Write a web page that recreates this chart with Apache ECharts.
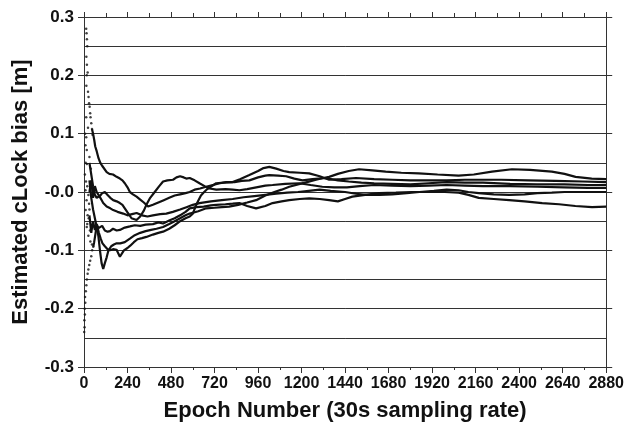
<!DOCTYPE html>
<html><head><meta charset="utf-8">
<script src="https://cdn.jsdelivr.net/npm/echarts@6/dist/echarts.min.js"></script>
<style>html,body{margin:0;padding:0;background:#fff}#c{width:627px;height:432px}</style>
</head><body><div id="c"></div>
<script>
// ---- data: [epoch, clock bias (m)] ----
const earlyDots = [[12,0.28],[14,0.272],[16,0.262],[18,0.25],[13,0.232],[16,0.218],[20,0.205],[15,0.2],[13,0.182],[22,0.172],[25,0.163],[28,0.152],[31,0.146],[34,0.135],[36,0.128],[40,0.118],[44,0.108],[47,0.098],
  [6,0.1],[12,0.094],[8,0.08],[15,0.072],[9,0.05],[16,0.048],[5,0.03],[11,0.018],[18,0.01],[8,0.003],[24,-0.005],[14,-0.014],[28,-0.02],[9,-0.031],[20,-0.04],[15,-0.06],[33,-0.066],[24,-0.075],[12,0.128],[22,0.11],[30,0.06],[38,0.04],[26,-0.045],[35,-0.085],[44,-0.09],[18,-0.055],[30,-0.03],[40,-0.06],
  [1,-0.24],[3,-0.232],[2,-0.22],[5,-0.21],[4,-0.2],[7,-0.19],[6,-0.18],[10,-0.17],[13,-0.16],[16,-0.15],[20,-0.14],[24,-0.133],[29,-0.125],[34,-0.118],[40,-0.11],[45,-0.1],[51,-0.094]];

const seriesP = [[44,0.108],[50,0.1],[56,0.09],[62,0.078],[70,0.07],[80,0.058],[90,0.05],[100,0.045],[110,0.042],[125,0.034],[140,0.031],[160,0.03],[180,0.026],[198,0.023],[212,0.02],[225,0.015],[240,0.008],[253,0.0],[270,-0.004],[290,-0.008],[310,-0.013],[330,-0.018],[353,-0.025],[380,-0.022],[410,-0.018],[440,-0.014],[470,-0.01],[500,-0.006],[530,-0.004],[560,-0.002],[583,0.0],[610,0.004],[640,0.006],[674,0.009],[710,0.012],[750,0.015],[784,0.017],[830,0.017],[870,0.019],[912,0.02],[960,0.025],[1000,0.028],[1022,0.029],[1070,0.028],[1115,0.027],[1160,0.023],[1205,0.02],[1260,0.022],[1330,0.024],[1400,0.02],[1460,0.018],[1530,0.016],[1600,0.015],[1700,0.014],[1800,0.013],[1900,0.015],[2000,0.017],[2100,0.016],[2200,0.016],[2350,0.014],[2500,0.013],[2650,0.013],[2780,0.012],[2880,0.012]];

const seriesQ = [[30,0.05],[40,0.03],[50,0.01],[60,-0.005],[70,-0.01],[80,-0.012],[90,-0.006],[100,-0.002],[115,0.0],[130,-0.005],[145,-0.01],[161,-0.014],[180,-0.016],[198,-0.019],[212,-0.022],[225,-0.028],[240,-0.035],[262,-0.045],[290,-0.048],[310,-0.042],[330,-0.032],[344,-0.022],[365,-0.01],[390,0.0],[415,0.01],[436,0.018],[460,0.02],[491,0.021],[510,0.025],[530,0.027],[550,0.025],[564,0.023],[583,0.024],[610,0.02],[637,0.015],[665,0.01],[692,0.006],[730,0.004],[780,0.005],[820,0.004],[857,0.003],[900,0.005],[950,0.008],[1000,0.011],[1040,0.012],[1110,0.014],[1187,0.015],[1250,0.012],[1314,0.009],[1380,0.008],[1450,0.008],[1520,0.01],[1600,0.012],[1700,0.011],[1800,0.01],[1900,0.011],[2000,0.012],[2100,0.011],[2200,0.01],[2350,0.01],[2500,0.009],[2650,0.008],[2780,0.007],[2880,0.007]];

const seriesR = [[30,0.0],[40,0.02],[50,-0.01],[60,0.01],[70,0.0],[80,0.002],[90,-0.01],[106,-0.019],[125,-0.025],[145,-0.028],[161,-0.031],[185,-0.034],[216,-0.037],[240,-0.04],[265,-0.038],[290,-0.036],[320,-0.04],[350,-0.042],[380,-0.04],[420,-0.038],[454,-0.037],[490,-0.034],[530,-0.03],[565,-0.026],[600,-0.022],[637,-0.019],[700,-0.016],[760,-0.014],[820,-0.012],[880,-0.009],[940,-0.007],[1000,-0.005],[1060,-0.003],[1120,-0.001],[1180,0.0],[1240,0.002],[1300,0.004],[1360,0.002],[1440,0.0],[1500,-0.003],[1560,-0.005],[1630,-0.005],[1700,-0.004],[1780,-0.002],[1850,0.0],[1930,0.002],[2000,0.004],[2066,0.003],[2120,0.0],[2177,-0.002],[2260,-0.004],[2345,-0.005],[2430,-0.004],[2500,-0.002],[2580,-0.001],[2650,0.0],[2760,0.0],[2880,0.0]];

const seriesS = [[30,-0.04],[40,-0.07],[50,-0.05],[60,-0.065],[70,-0.055],[80,-0.062],[88,-0.065],[100,-0.058],[115,-0.066],[130,-0.068],[143,-0.067],[160,-0.063],[180,-0.066],[198,-0.065],[225,-0.061],[253,-0.059],[280,-0.057],[310,-0.058],[340,-0.056],[380,-0.055],[410,-0.052],[436,-0.054],[470,-0.049],[500,-0.045],[530,-0.04],[560,-0.034],[583,-0.028],[620,-0.026],[660,-0.025],[700,-0.023],[729,-0.022],[780,-0.021],[820,-0.02],[857,-0.019],[900,-0.024],[949,-0.028],[1000,-0.024],[1040,-0.019],[1090,-0.016],[1132,-0.014],[1190,-0.012],[1242,-0.011],[1300,-0.012],[1352,-0.014],[1400,-0.016],[1440,-0.012],[1480,-0.008],[1550,-0.005],[1627,-0.002],[1720,-0.001],[1808,0.0],[1900,0.0],[1990,0.0],[2066,-0.001],[2120,-0.005],[2177,-0.01],[2260,-0.012],[2345,-0.014],[2430,-0.016],[2527,-0.019],[2620,-0.021],[2710,-0.024],[2802,-0.026],[2880,-0.025]];

const seriesT = [[30,0.02],[40,-0.01],[50,-0.03],[60,-0.045],[70,-0.06],[79,-0.075],[88,-0.1],[97,-0.122],[106,-0.132],[115,-0.122],[125,-0.112],[135,-0.1],[150,-0.093],[165,-0.09],[180,-0.088],[200,-0.088],[225,-0.086],[253,-0.08],[280,-0.074],[310,-0.07],[340,-0.067],[370,-0.065],[400,-0.063],[436,-0.06],[470,-0.055],[500,-0.05],[530,-0.045],[560,-0.04],[583,-0.037],[630,-0.033],[674,-0.028],[720,-0.027],[760,-0.026],[800,-0.025],[850,-0.022],[900,-0.018],[949,-0.014],[1000,-0.006],[1050,0.0],[1090,0.004],[1132,0.009],[1180,0.013],[1230,0.017],[1280,0.021],[1320,0.024],[1352,0.026],[1400,0.031],[1460,0.036],[1517,0.039],[1590,0.037],[1664,0.035],[1750,0.033],[1846,0.032],[1950,0.03],[2066,0.028],[2150,0.03],[2250,0.035],[2360,0.039],[2460,0.038],[2580,0.035],[2650,0.031],[2711,0.026],[2800,0.023],[2880,0.022]];

const seriesU = [[51,-0.094],[56,-0.086],[61,-0.076],[66,-0.066],[74,-0.06],[82,-0.07],[92,-0.08],[102,-0.088],[115,-0.093],[130,-0.098],[143,-0.1],[160,-0.098],[180,-0.099],[190,-0.106],[198,-0.111],[208,-0.108],[220,-0.1],[240,-0.096],[255,-0.092],[275,-0.086],[295,-0.081],[320,-0.079],[344,-0.077],[380,-0.073],[410,-0.07],[436,-0.068],[470,-0.063],[500,-0.057],[530,-0.05],[560,-0.045],[583,-0.042],[600,-0.037],[615,-0.025],[630,-0.015],[645,-0.006],[660,-0.001],[680,0.005],[705,0.01],[729,0.015],[770,0.016],[820,0.017],[860,0.022],[912,0.029],[960,0.036],[990,0.041],[1022,0.043],[1060,0.04],[1100,0.036],[1132,0.034],[1190,0.033],[1242,0.032],[1300,0.027],[1352,0.021],[1420,0.022],[1500,0.024],[1600,0.022],[1700,0.021],[1800,0.02],[1900,0.02],[2000,0.02],[2100,0.021],[2200,0.021],[2300,0.021],[2450,0.02],[2600,0.019],[2750,0.018],[2880,0.017]];

const lineSeries = [seriesP, seriesQ, seriesR, seriesS, seriesT, seriesU];

const FONT = '"Liberation Sans", Arial, Helvetica, sans-serif';
const AX = '#333';
const chart = echarts.init(document.getElementById('c'), null, {renderer: 'canvas'});

const yFmt = v => {
  const r = Math.round(v * 10) / 10;
  if (Math.abs(r) < 1e-9) return '-0.0';
  return r.toFixed(1);
};
const xFmt = v => String(Math.round(v));

const series = lineSeries.map(d => ({
  type: 'line', data: d, symbol: 'none', xAxisIndex: 0, yAxisIndex: 0,
  lineStyle: {color: '#111', width: 2.2}, z: 3
}));
series.push({
  type: 'scatter', data: earlyDots, symbol: 'circle', symbolSize: 2.5,
  itemStyle: {color: '#111'}, xAxisIndex: 0, yAxisIndex: 0, z: 3
});

chart.setOption({
  animation: false,
  backgroundColor: '#fff',
  grid: {left: 84, right: 19, top: 17, bottom: 65},
  xAxis: [{
    type: 'value', min: 0, max: 2880, interval: 240, position: 'bottom',
    axisLine: {show: true, onZero: false, lineStyle: {color: AX, width: 1}},
    axisTick: {show: true, inside: false, length: 6, lineStyle: {color: AX}},
    minorTick: {show: true, splitNumber: 2, length: 3, lineStyle: {color: AX}},
    axisLabel: {color: '#111', fontFamily: FONT, fontWeight: 'bold', fontSize: 16, margin: 9, formatter: xFmt},
    splitLine: {show: false},
    name: 'Epoch Number (30s sampling rate)', nameLocation: 'middle', nameGap: 33,
    nameTextStyle: {color: '#111', fontFamily: FONT, fontWeight: 'bold', fontSize: 22}
  }, {
    type: 'value', min: 0, max: 2880, interval: 240, position: 'top',
    axisLine: {show: true, onZero: false, lineStyle: {color: AX, width: 1}},
    axisTick: {show: true, inside: false, length: 5, lineStyle: {color: AX}},
    minorTick: {show: true, splitNumber: 2, length: 4, lineStyle: {color: AX}},
    axisLabel: {show: false}, splitLine: {show: false}
  }],
  yAxis: [{
    type: 'value', min: -0.3, max: 0.3, interval: 0.1, position: 'left',
    axisLine: {show: true, onZero: false, lineStyle: {color: AX, width: 1}},
    axisTick: {show: true, inside: false, length: 6, lineStyle: {color: AX}},
    minorTick: {show: false, splitNumber: 2},
    minorSplitLine: {show: true, lineStyle: {color: '#333', width: 1}},
    splitLine: {show: true, lineStyle: {color: '#333', width: 1}},
    axisLabel: {color: '#111', fontFamily: FONT, fontWeight: 'bold', fontSize: 17, margin: 10, formatter: yFmt},
    name: 'Estimated cLock bias [m]', nameLocation: 'middle', nameGap: 52,
    nameTextStyle: {color: '#111', fontFamily: FONT, fontWeight: 'bold', fontSize: 22}
  }, {
    type: 'value', min: -0.3, max: 0.3, interval: 0.1, position: 'right',
    axisLine: {show: true, onZero: false, lineStyle: {color: AX, width: 1}},
    axisTick: {show: true, inside: false, length: 6, lineStyle: {color: AX}},
    axisLabel: {show: false}, splitLine: {show: false}
  }],
  series: series
});
</script></body></html>
